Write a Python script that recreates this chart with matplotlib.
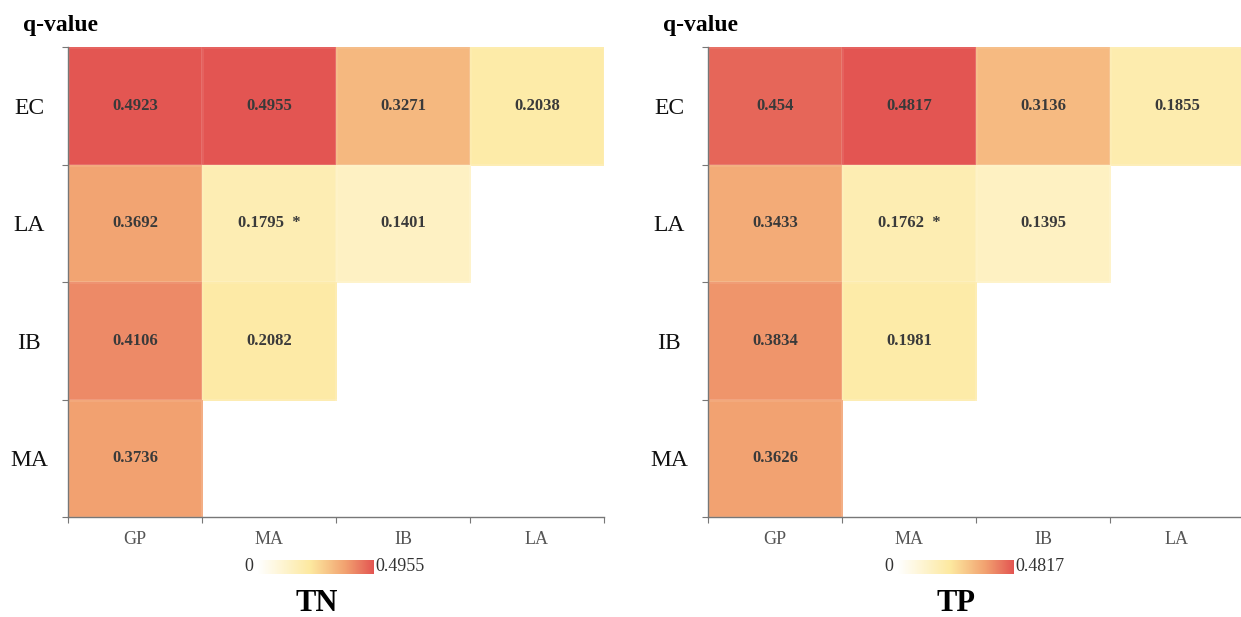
import matplotlib
matplotlib.use("Agg")
import matplotlib.pyplot as plt
from matplotlib.colors import LinearSegmentedColormap
import numpy as np

plt.rcParams['font.family'] = ['Liberation Serif', 'DejaVu Serif']

rows = ['EC', 'LA', 'IB', 'MA']
cols = ['GP', 'MA', 'IB', 'LA']

tn_vals = [[0.4923, 0.4955, 0.3271, 0.2038],
           [0.3692, 0.1795, 0.1401, np.nan],
           [0.4106, 0.2082, np.nan, np.nan],
           [0.3736, np.nan, np.nan, np.nan]]
tp_vals = [[0.454, 0.4817, 0.3136, 0.1855],
           [0.3433, 0.1762, 0.1395, np.nan],
           [0.3834, 0.1981, np.nan, np.nan],
           [0.3626, np.nan, np.nan, np.nan]]
# significant cells (row, col)
tn_sig = [(1, 1)]
tp_sig = [(1, 1)]

cmap = LinearSegmentedColormap.from_list(
    'qv', [(0.0, '#ffffff'), (0.45, '#fde9a0'), (0.75, '#f2a371'), (1.0, '#e35552')])

fig = plt.figure(figsize=(12.41, 6.17), dpi=100)


def panel(left, vals, sig, title, cbx):
    v = np.array(vals, dtype=float)
    vmax = np.nanmax(v)
    ax = fig.add_axes([left, 0.162, 0.4319, 0.7618])
    m = np.ma.masked_invalid(v)
    ax.pcolormesh(np.arange(5), np.arange(5), m, cmap=cmap, vmin=0, vmax=vmax,
                  edgecolor=(1, 1, 1, 0.08), linewidth=0.8)
    ax.set_xlim(0, 4)
    ax.set_ylim(4, 0)
    for i in range(4):
        for j in range(4):
            if np.isnan(v[i, j]):
                continue
            s = '%g' % v[i, j]
            if (i, j) in sig:
                s += '  *'
            ax.text(j + 0.5, i + 0.5, s, ha='center', va='center',
                    fontsize=12, color='#3a3a3a', fontweight='semibold')
    for s in ['top', 'right']:
        ax.spines[s].set_visible(False)
    for s in ['left', 'bottom']:
        ax.spines[s].set_color('#777777')
        ax.spines[s].set_linewidth(1.0)
    ax.set_xticks(np.arange(5))
    ax.set_xticklabels([])
    ax.set_yticks(np.arange(5))
    ax.set_yticklabels([])
    ax.set_xticks(np.arange(4) + 0.5, minor=True)
    ax.set_xticklabels(cols, minor=True, fontsize=13, color='#555555')
    ax.set_yticks(np.arange(4) + 0.5, minor=True)
    ax.set_yticklabels(rows, minor=True, fontsize=17, color='#111111',
                       ha='center')
    ax.tick_params(which='major', length=4, color='#777777')
    ax.tick_params(which='minor', length=0)
    ax.tick_params(axis='x', which='minor', pad=10)
    ax.tick_params(axis='y', which='minor', pad=28)
    fig.text(left - 0.036, 0.958, 'q-value', fontsize=17, fontweight='bold',
             ha='left', va='center')
    # colour bar
    cax = fig.add_axes([cbx, 0.070, 0.0927, 0.0227])
    grad = np.linspace(0, vmax, 256).reshape(1, -1)
    cax.imshow(grad, aspect='auto', cmap=cmap, vmin=0, vmax=vmax,
               extent=[0, vmax, 0, 1])
    cax.set_axis_off()
    fig.text(cbx - 0.004, 0.082, '0', fontsize=13, color='#333333',
             ha='right', va='center')
    fig.text(cbx + 0.0947, 0.082, '%g' % vmax, fontsize=13, color='#333333',
             ha='left', va='center')
    fig.text(left + 0.2, 0.022, title, fontsize=22, fontweight='bold',
             ha='center', va='center')


panel(0.0548, tn_vals, tn_sig, 'TN', 0.2079)
panel(0.5705, tp_vals, tp_sig, 'TP', 0.7236)

fig.savefig('out.png', dpi=100)
